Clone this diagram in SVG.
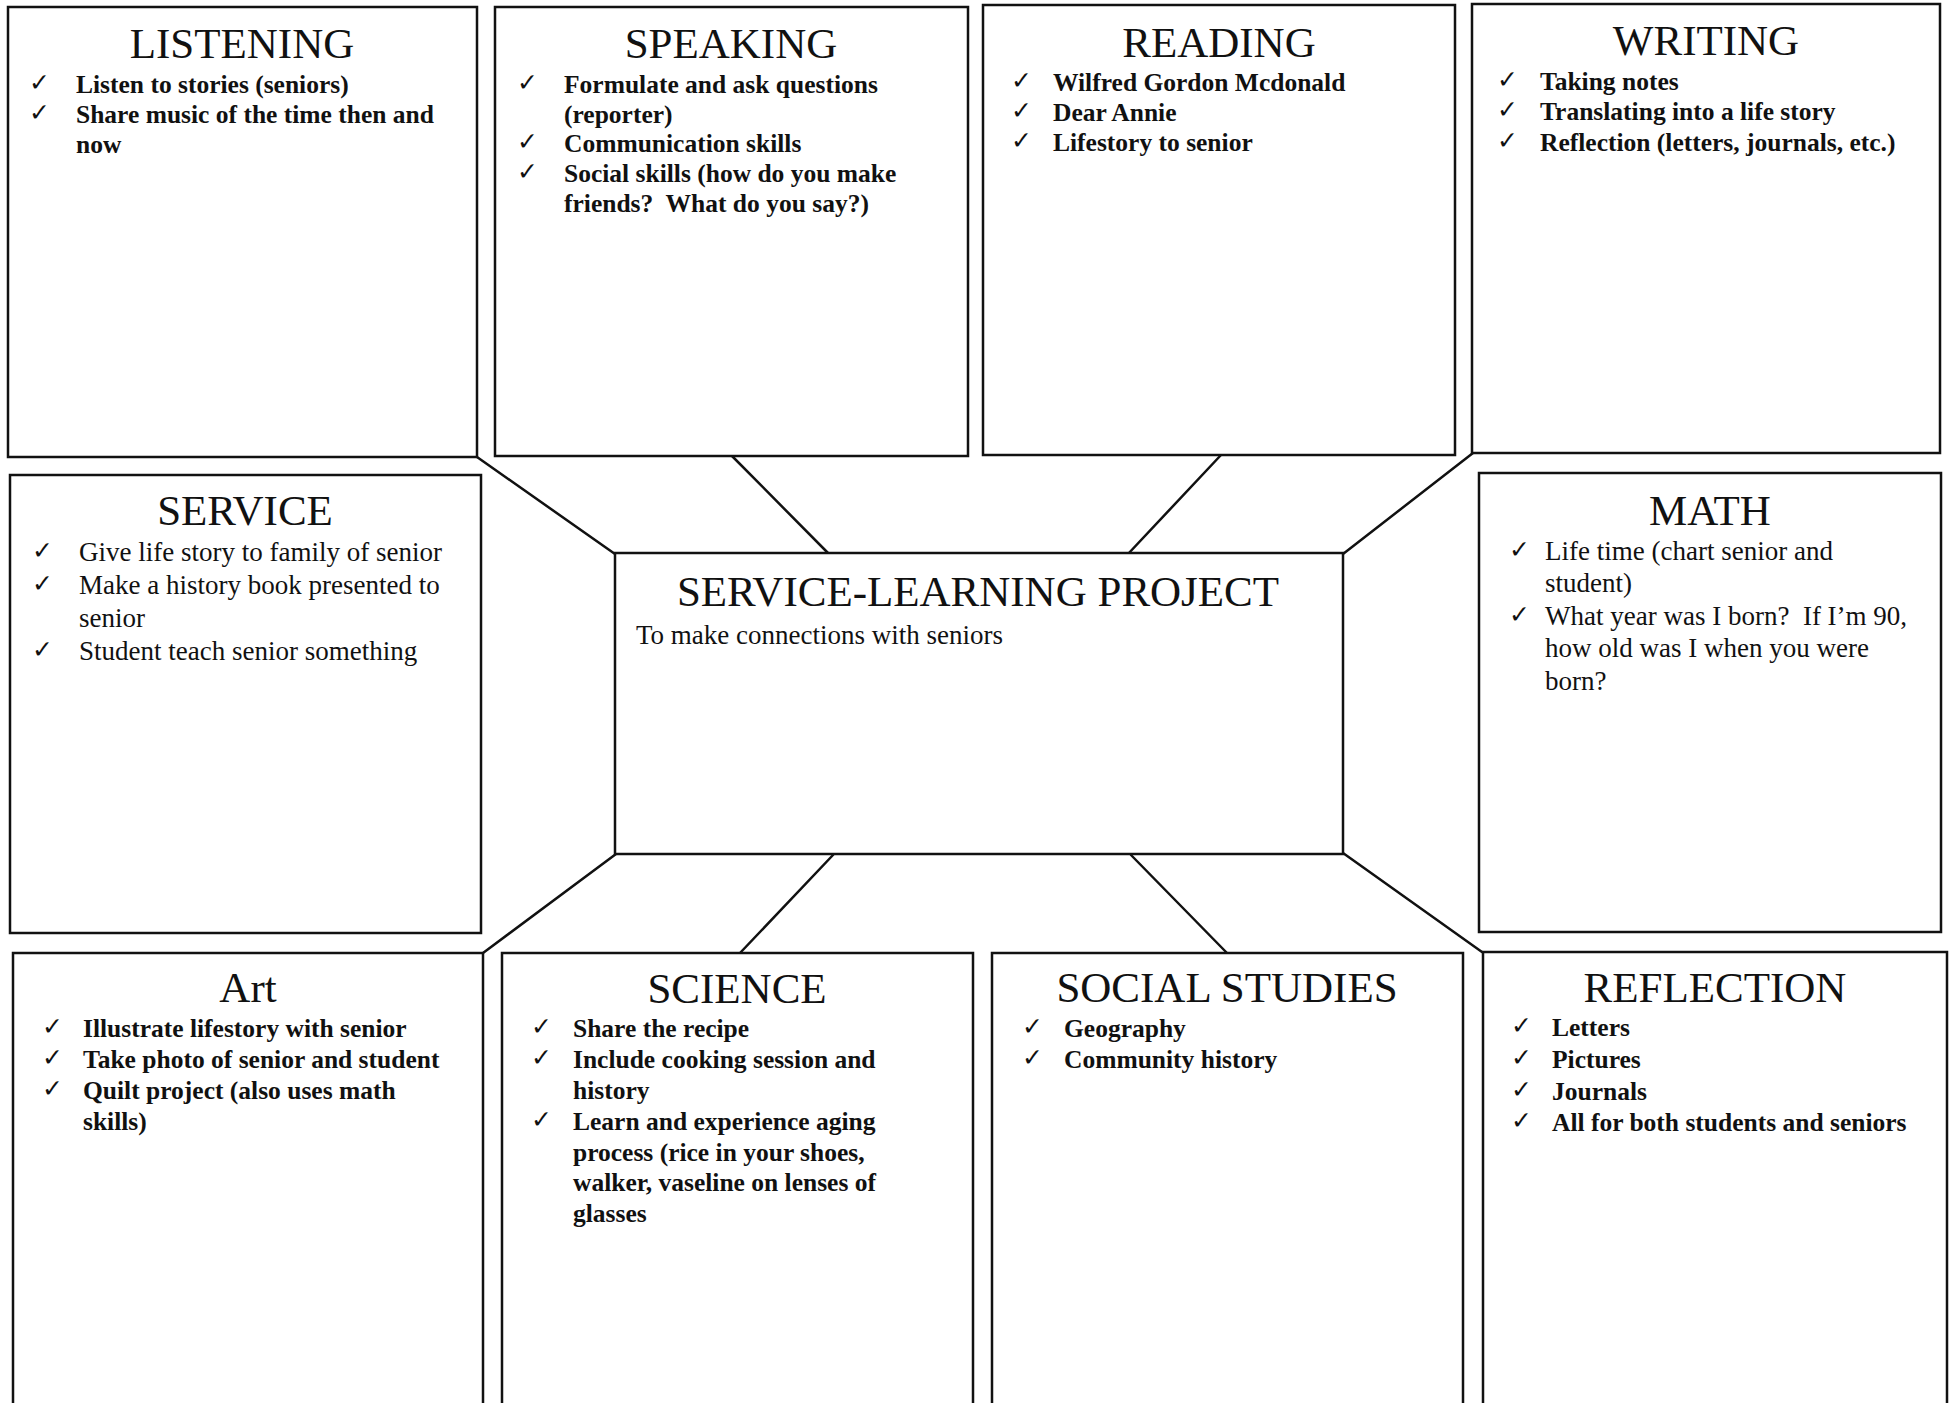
<svg xmlns="http://www.w3.org/2000/svg" width="1952" height="1403" viewBox="0 0 1952 1403">
<style>
.box{fill:#fff;stroke:#111;stroke-width:2.5}
.con line{stroke:#111;stroke-width:2.5;stroke-linecap:round}
.t{font-family:"Liberation Serif","Times New Roman",serif;font-size:43px;text-anchor:middle;fill:#111}
.i{font-family:"Liberation Serif","Times New Roman",serif;font-size:25.5px;font-weight:bold;fill:#111}
.r{font-family:"Liberation Serif","Times New Roman",serif;font-size:27px;fill:#111}
.c{font-family:"DejaVu Sans",sans-serif;font-size:25px;font-weight:bold;fill:#111}
</style>
<rect width="1952" height="1403" fill="#fff"/>
<g id="connectors" class="con">
<line x1="477" y1="457" x2="615" y2="554"/>
<line x1="732" y1="456" x2="829" y2="554"/>
<line x1="1221" y1="455" x2="1128" y2="554"/>
<line x1="1473" y1="453" x2="1343" y2="554"/>
<line x1="616" y1="854" x2="483" y2="953"/>
<line x1="833" y1="855" x2="740" y2="953"/>
<line x1="1131" y1="855" x2="1227" y2="953"/>
<line x1="1343" y1="853" x2="1482" y2="952"/>
</g>
<g id="listening">
<rect class="box" x="8" y="7" width="469" height="450"/>
<text class="t" x="242" y="58">LISTENING</text>
<text class="c" x="29" y="91">✓</text><text class="i" x="76" y="93">Listen to stories (seniors)</text>
<text class="c" x="29" y="121">✓</text><text class="i" x="76" y="123">Share music of the time then and</text>
<text class="i" x="76" y="153">now</text>
</g>
<g id="speaking">
<rect class="box" x="495" y="7" width="473" height="449"/>
<text class="t" x="731" y="58">SPEAKING</text>
<text class="c" x="517" y="91">✓</text><text class="i" x="564" y="93">Formulate and ask questions</text>
<text class="i" x="564" y="123">(reporter)</text>
<text class="c" x="517" y="150">✓</text><text class="i" x="564" y="152">Communication skills</text>
<text class="c" x="517" y="180">✓</text><text class="i" x="564" y="182">Social skills (how do you make</text>
<text class="i" x="564" y="212">friends?&#160; What do you say?)</text>
</g>
<g id="reading">
<rect class="box" x="983" y="5" width="472" height="450"/>
<text class="t" x="1219" y="57">READING</text>
<text class="c" x="1011" y="89">✓</text><text class="i" x="1053" y="91">Wilfred Gordon Mcdonald</text>
<text class="c" x="1011" y="119">✓</text><text class="i" x="1053" y="121">Dear Annie</text>
<text class="c" x="1011" y="149">✓</text><text class="i" x="1053" y="151">Lifestory to senior</text>
</g>
<g id="writing">
<rect class="box" x="1472" y="4" width="468" height="449"/>
<text class="t" x="1706" y="55">WRITING</text>
<text class="c" x="1497" y="88">✓</text><text class="i" x="1540" y="90">Taking notes</text>
<text class="c" x="1497" y="118">✓</text><text class="i" x="1540" y="120">Translating into a life story</text>
<text class="c" x="1497" y="149">✓</text><text class="i" x="1540" y="151">Reflection (letters, journals, etc.)</text>
</g>
<g id="service">
<rect class="box" x="10" y="475" width="471" height="458"/>
<text class="t" x="245" y="525">SERVICE</text>
<text class="c" x="32" y="559">✓</text><text class="r" x="79" y="561">Give life story to family of senior</text>
<text class="c" x="32" y="592">✓</text><text class="r" x="79" y="594">Make a history book presented to</text>
<text class="r" x="79" y="627">senior</text>
<text class="c" x="32" y="658">✓</text><text class="r" x="79" y="660">Student teach senior something</text>
</g>
<g id="center">
<rect class="box" x="615" y="553" width="728" height="301"/>
<text class="t" x="978" y="606">SERVICE-LEARNING PROJECT</text>
<text class="r" x="636" y="644">To make connections with seniors</text>
</g>
<g id="math">
<rect class="box" x="1479" y="473" width="462" height="459"/>
<text class="t" x="1710" y="525">MATH</text>
<text class="c" x="1509" y="558">✓</text><text class="r" x="1545" y="560">Life time (chart senior and</text>
<text class="r" x="1545" y="592">student)</text>
<text class="c" x="1509" y="623">✓</text><text class="r" x="1545" y="625">What year was I born?&#160; If I’m 90,</text>
<text class="r" x="1545" y="657">how old was I when you were</text>
<text class="r" x="1545" y="690">born?</text>
</g>
<g id="art">
<rect class="box" x="13" y="953" width="470" height="480"/>
<text class="t" x="248" y="1002">Art</text>
<text class="c" x="42" y="1035">✓</text><text class="i" x="83" y="1037">Illustrate lifestory with senior</text>
<text class="c" x="42" y="1066">✓</text><text class="i" x="83" y="1068">Take photo of senior and student</text>
<text class="c" x="42" y="1097">✓</text><text class="i" x="83" y="1099">Quilt project (also uses math</text>
<text class="i" x="83" y="1130">skills)</text>
</g>
<g id="science">
<rect class="box" x="502" y="953" width="471" height="480"/>
<text class="t" x="737" y="1003">SCIENCE</text>
<text class="c" x="531" y="1035">✓</text><text class="i" x="573" y="1037">Share the recipe</text>
<text class="c" x="531" y="1066">✓</text><text class="i" x="573" y="1068">Include cooking session and</text>
<text class="i" x="573" y="1099">history</text>
<text class="c" x="531" y="1128">✓</text><text class="i" x="573" y="1130">Learn and experience aging</text>
<text class="i" x="573" y="1161">process (rice in your shoes,</text>
<text class="i" x="573" y="1191">walker, vaseline on lenses of</text>
<text class="i" x="573" y="1222">glasses</text>
</g>
<g id="social-studies">
<rect class="box" x="992" y="953" width="471" height="480"/>
<text class="t" x="1227" y="1002">SOCIAL STUDIES</text>
<text class="c" x="1022" y="1035">✓</text><text class="i" x="1064" y="1037">Geography</text>
<text class="c" x="1022" y="1066">✓</text><text class="i" x="1064" y="1068">Community history</text>
</g>
<g id="reflection">
<rect class="box" x="1483" y="952" width="464" height="480"/>
<text class="t" x="1715" y="1002">REFLECTION</text>
<text class="c" x="1511" y="1034">✓</text><text class="i" x="1552" y="1036">Letters</text>
<text class="c" x="1511" y="1066">✓</text><text class="i" x="1552" y="1068">Pictures</text>
<text class="c" x="1511" y="1098">✓</text><text class="i" x="1552" y="1100">Journals</text>
<text class="c" x="1511" y="1129">✓</text><text class="i" x="1552" y="1131">All for both students and seniors</text>
</g>
</svg>
